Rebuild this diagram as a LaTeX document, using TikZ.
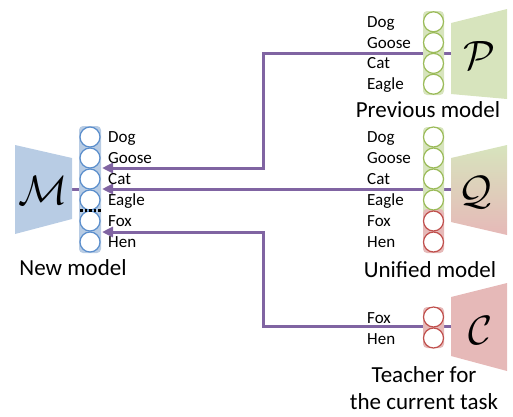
\documentclass[tikz,border=0pt]{standalone}
\usepackage{fontspec}
\setmainfont{Carlito}
\usepackage{tikz}
\usetikzlibrary{arrows.meta,backgrounds}
\definecolor{BlueFill}{RGB}{184,204,228}
\definecolor{BlueLine}{RGB}{91,142,204}
\definecolor{GreenFill}{RGB}{215,228,189}
\definecolor{GreenLine}{RGB}{155,187,89}
\definecolor{RedFill}{RGB}{230,185,184}
\definecolor{RedLine}{RGB}{192,80,77}
\definecolor{Purple}{RGB}{128,100,162}

\tikzset{
  unit/.style={circle, draw=#1, fill=white, line width=1.2pt, minimum size=20pt, inner sep=0pt},
  lbl/.style={anchor=base west, inner sep=0pt, font=\fontsize{17}{20}\selectfont},
  modelcap/.style={anchor=base, inner sep=0pt, font=\fontsize{23}{27}\selectfont, align=center},
  letter/.style={inner sep=0pt, scale=4.1},
  flow/.style={draw=Purple, line width=3pt, -{Triangle[length=11pt,width=10pt]}},
  link/.style={draw=Purple, line width=3pt},
}

\begin{document}
\begin{tikzpicture}[x=1pt,y=-1pt]
    \useasboundingbox (0,0) rectangle (513,416);
    % new model
    \fill[BlueFill] (15,145) -- (72,158) -- (72,219) -- (15,234) -- cycle;
    \node[letter] (M) at (43,190) {$\mathcal{M}$};
    \coordinate (Mout) at (72,189);
    \fill[BlueFill, rounded corners=4pt] (79,126) rectangle (101,253);
    \foreach \name [count=\i] in {Dog,Goose,Cat,Eagle,Fox,Hen}
    {
    \node[unit=BlueLine] (new\i) at (90,116+21*\i) {};
    \node[lbl] (newl\i) at (108,121.5+21*\i) {\name};
    }
    \draw[dotted, line width=2.5pt] ([xshift=-10pt]new4.south) -- ([xshift=12pt]new4.south);
    \node[modelcap] (newcap) at (73,275) {New model};
    % previous model
    \fill[GreenFill] (451,23) -- (507,9) -- (507,99) -- (451,94) -- cycle;
    \node[letter] (P) at (479,55) {$\mathcal{P}$};
    \coordinate (Pin) at (451,53);
    \fill[GreenFill, rounded corners=4pt] (423,11) rectangle (444,95);
    \foreach \name [count=\i] in {Dog,Goose,Cat,Eagle}
    {
    \node[unit=GreenLine] (prev\i) at (433.5,1+20.8*\i) {};
    \node[lbl] (prevl\i) at (367,6.5+20.8*\i) {\name};
    }
    \node[modelcap] (prevcap) at (428,117) {Previous model};
    % unified model
    \shade[top color=GreenFill, bottom color=RedFill] (451,158) -- (507,145) -- (507,235) -- (451,222) -- cycle;
    \node[letter] (Q) at (475,192) {$\mathcal{Q}$};
    \coordinate (Qin) at (451,189);
    \fill[GreenFill, rounded corners=4pt] (423,127) rectangle (444,215);
    \fill[RedFill, rounded corners=4pt] (423,209) rectangle (444,253);
    \foreach \name/\col [count=\i] in {Dog/GreenLine,Goose/GreenLine,Cat/GreenLine,Eagle/GreenLine,Fox/RedLine,Hen/RedLine}
    {
    \node[unit=\col] (uni\i) at (433.5,116+21*\i) {};
    \node[lbl] (unil\i) at (367,121.5+21*\i) {\name};
    }
    \node[modelcap] (unicap) at (430,277) {Unified model};
    % teacher
    \fill[RedFill] (451,297) -- (507,283) -- (507,371) -- (451,356) -- cycle;
    \node[letter] (C) at (480,330) {$\mathcal{C}$};
    \coordinate (Cin) at (451,326);
    \fill[RedFill, rounded corners=4pt] (423,307) rectangle (444,348);
    \foreach \name [count=\i] in {Fox,Hen}
    {
    \node[unit=RedLine] (cur\i) at (433.5,296+21*\i) {};
    \node[lbl] (curl\i) at (367,302+21*\i) {\name};
    }
    \node[modelcap] (curcap) at (424,409) {Teacher for\\the current task};
    % arrows
    \coordinate (tipP) at (102,168);
    \coordinate (tipQ) at (102,189);
    \coordinate (tipC) at (102,232);
    \begin{pgfonlayer}{background}
    \draw[link] (Mout) -- (Mout -| new3.west);
    \draw[flow] (Pin) -- ++(-188,0) |- (tipP);
    \draw[flow] (Qin) -- (tipQ);
    \draw[flow] (Cin) -- ++(-188,0) |- (tipC);
    \end{pgfonlayer}
\end{tikzpicture}
\end{document}
